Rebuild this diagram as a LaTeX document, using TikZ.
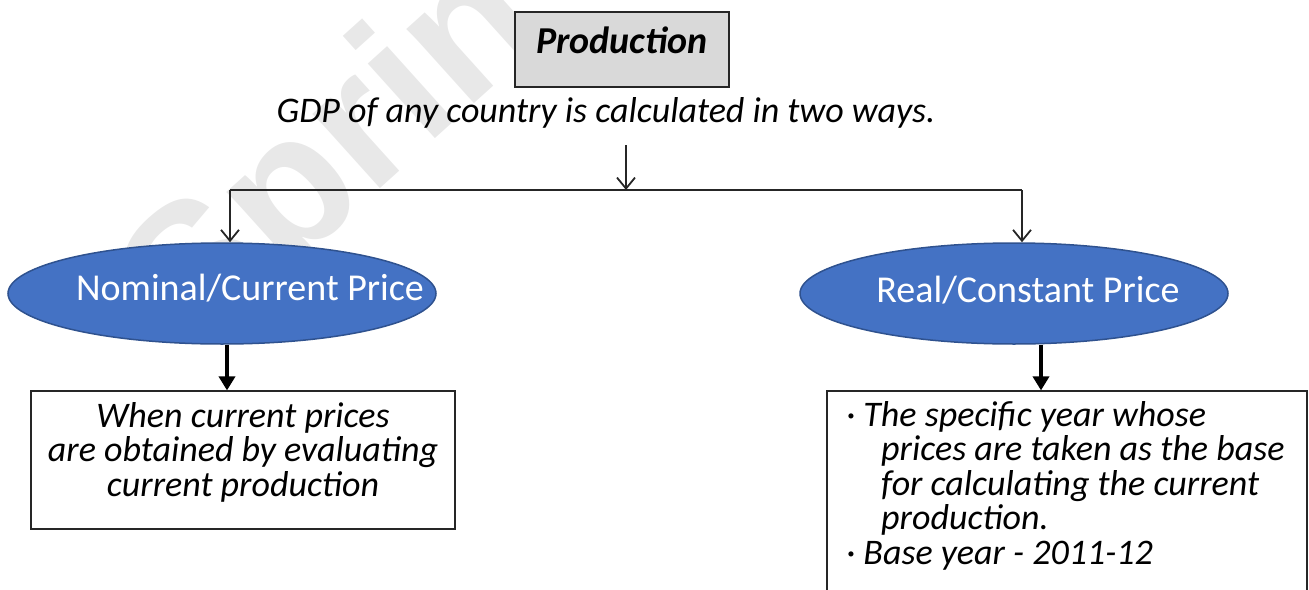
\documentclass[tikz,border=0pt]{standalone}
\usepackage{fontspec}
\setmainfont{Carlito}
\newfontfamily\wmfont{Liberation Sans}
\usetikzlibrary{arrows.meta,shapes.geometric}
\definecolor{ellblue}{HTML}{4472C4}
\definecolor{elledge}{HTML}{2F528F}
\definecolor{boxgray}{HTML}{D9D9D9}
\definecolor{wmgray}{HTML}{E8E8E8}
\definecolor{linegray}{HTML}{262626}
\tikzset{
  prodbox/.style={draw=linegray, line width=1.2pt, fill=boxgray, minimum width=214pt, minimum height=75pt, inner sep=0pt},
  ellnode/.style={ellipse, draw=elledge, line width=1.5pt, fill=ellblue, minimum width=428pt, minimum height=101pt, inner sep=0pt},
  ellText/.style={text=white, font=\fontsize{38}{40}\selectfont, inner sep=0pt},
  txtbox/.style={draw=linegray, line width=1.2pt, fill=white, inner sep=0pt},
  bodytext/.style={font=\fontsize{36}{34.5}\selectfont\itshape, inner sep=0pt},
  thinline/.style={draw=linegray, line width=1.5pt},
  thinarrow/.style={thinline, -{Straight Barb[length=11pt,width=18pt,line width=1.8pt]}},
  thickarrow/.style={draw=black, line width=3.5pt, -{Triangle[length=14pt,width=16pt]}},
}
\begin{document}
\begin{tikzpicture}[x=1pt,y=-1pt]
\useasboundingbox (0,0) rectangle (1309,589);
\begin{scope}
\clip (0,0) rectangle (1309,589);
\node[rotate=42, anchor=base west, text=wmgray, inner sep=0pt, font=\fontsize{190}{190}\wmfont\bfseries] (wm) at (190,360) {Sprin};

\node[prodbox] (prod) at (622,49.5) {};
\node[font=\fontsize{38}{40}\selectfont\bfseries\itshape, inner sep=0pt] (prodtxt) at (622,40) {Production};

\node[bodytext] (gdp) at (606,113) {GDP of any country is calculated in two ways.};

\coordinate (t1) at (626,145);
\coordinate (split) at (626,190);
\coordinate (lft) at (230,190);
\coordinate (rgt) at (1022,190);

\node[ellnode] (nom) at (222,293.5) {};
\node[ellText] (nomtxt) at (250,288) {Nominal/Current Price};
\node[ellnode] (real) at (1014,293.5) {};
\node[ellText] (realtxt) at (1028,290) {Real/Constant Price};

\draw[thinarrow] (t1) -- (split);
\draw[thinline] (lft) -- (rgt);
\draw[thinarrow] (lft) -- (lft |- nom.north);
\draw[thinarrow] (rgt) -- (rgt |- real.north);

\node[txtbox, minimum width=424pt, minimum height=138pt] (lbox) at (243,460) {};
\node[bodytext, align=center] (ltxt) at (243,452) {When current prices\\are obtained by evaluating\\current production};

\node[txtbox, minimum width=480pt, minimum height=230pt] (rbox) at (1067,506) {};
\node[bodytext, align=left, anchor=north west] (rtxt) at (846,401) {\textperiodcentered\ The specific year whose\\\hspace*{35pt}prices are taken as the base\\\hspace*{35pt}for calculating the current\\\hspace*{35pt}production.\\\textperiodcentered\ Base year - 2011-12};

\draw[thickarrow] (nom.south -| 227,0) -- (lbox.north -| 227,0);
\draw[thickarrow] (real.south -| 1041,0) -- (rbox.north -| 1041,0);
\end{scope}
\end{tikzpicture}
\end{document}
